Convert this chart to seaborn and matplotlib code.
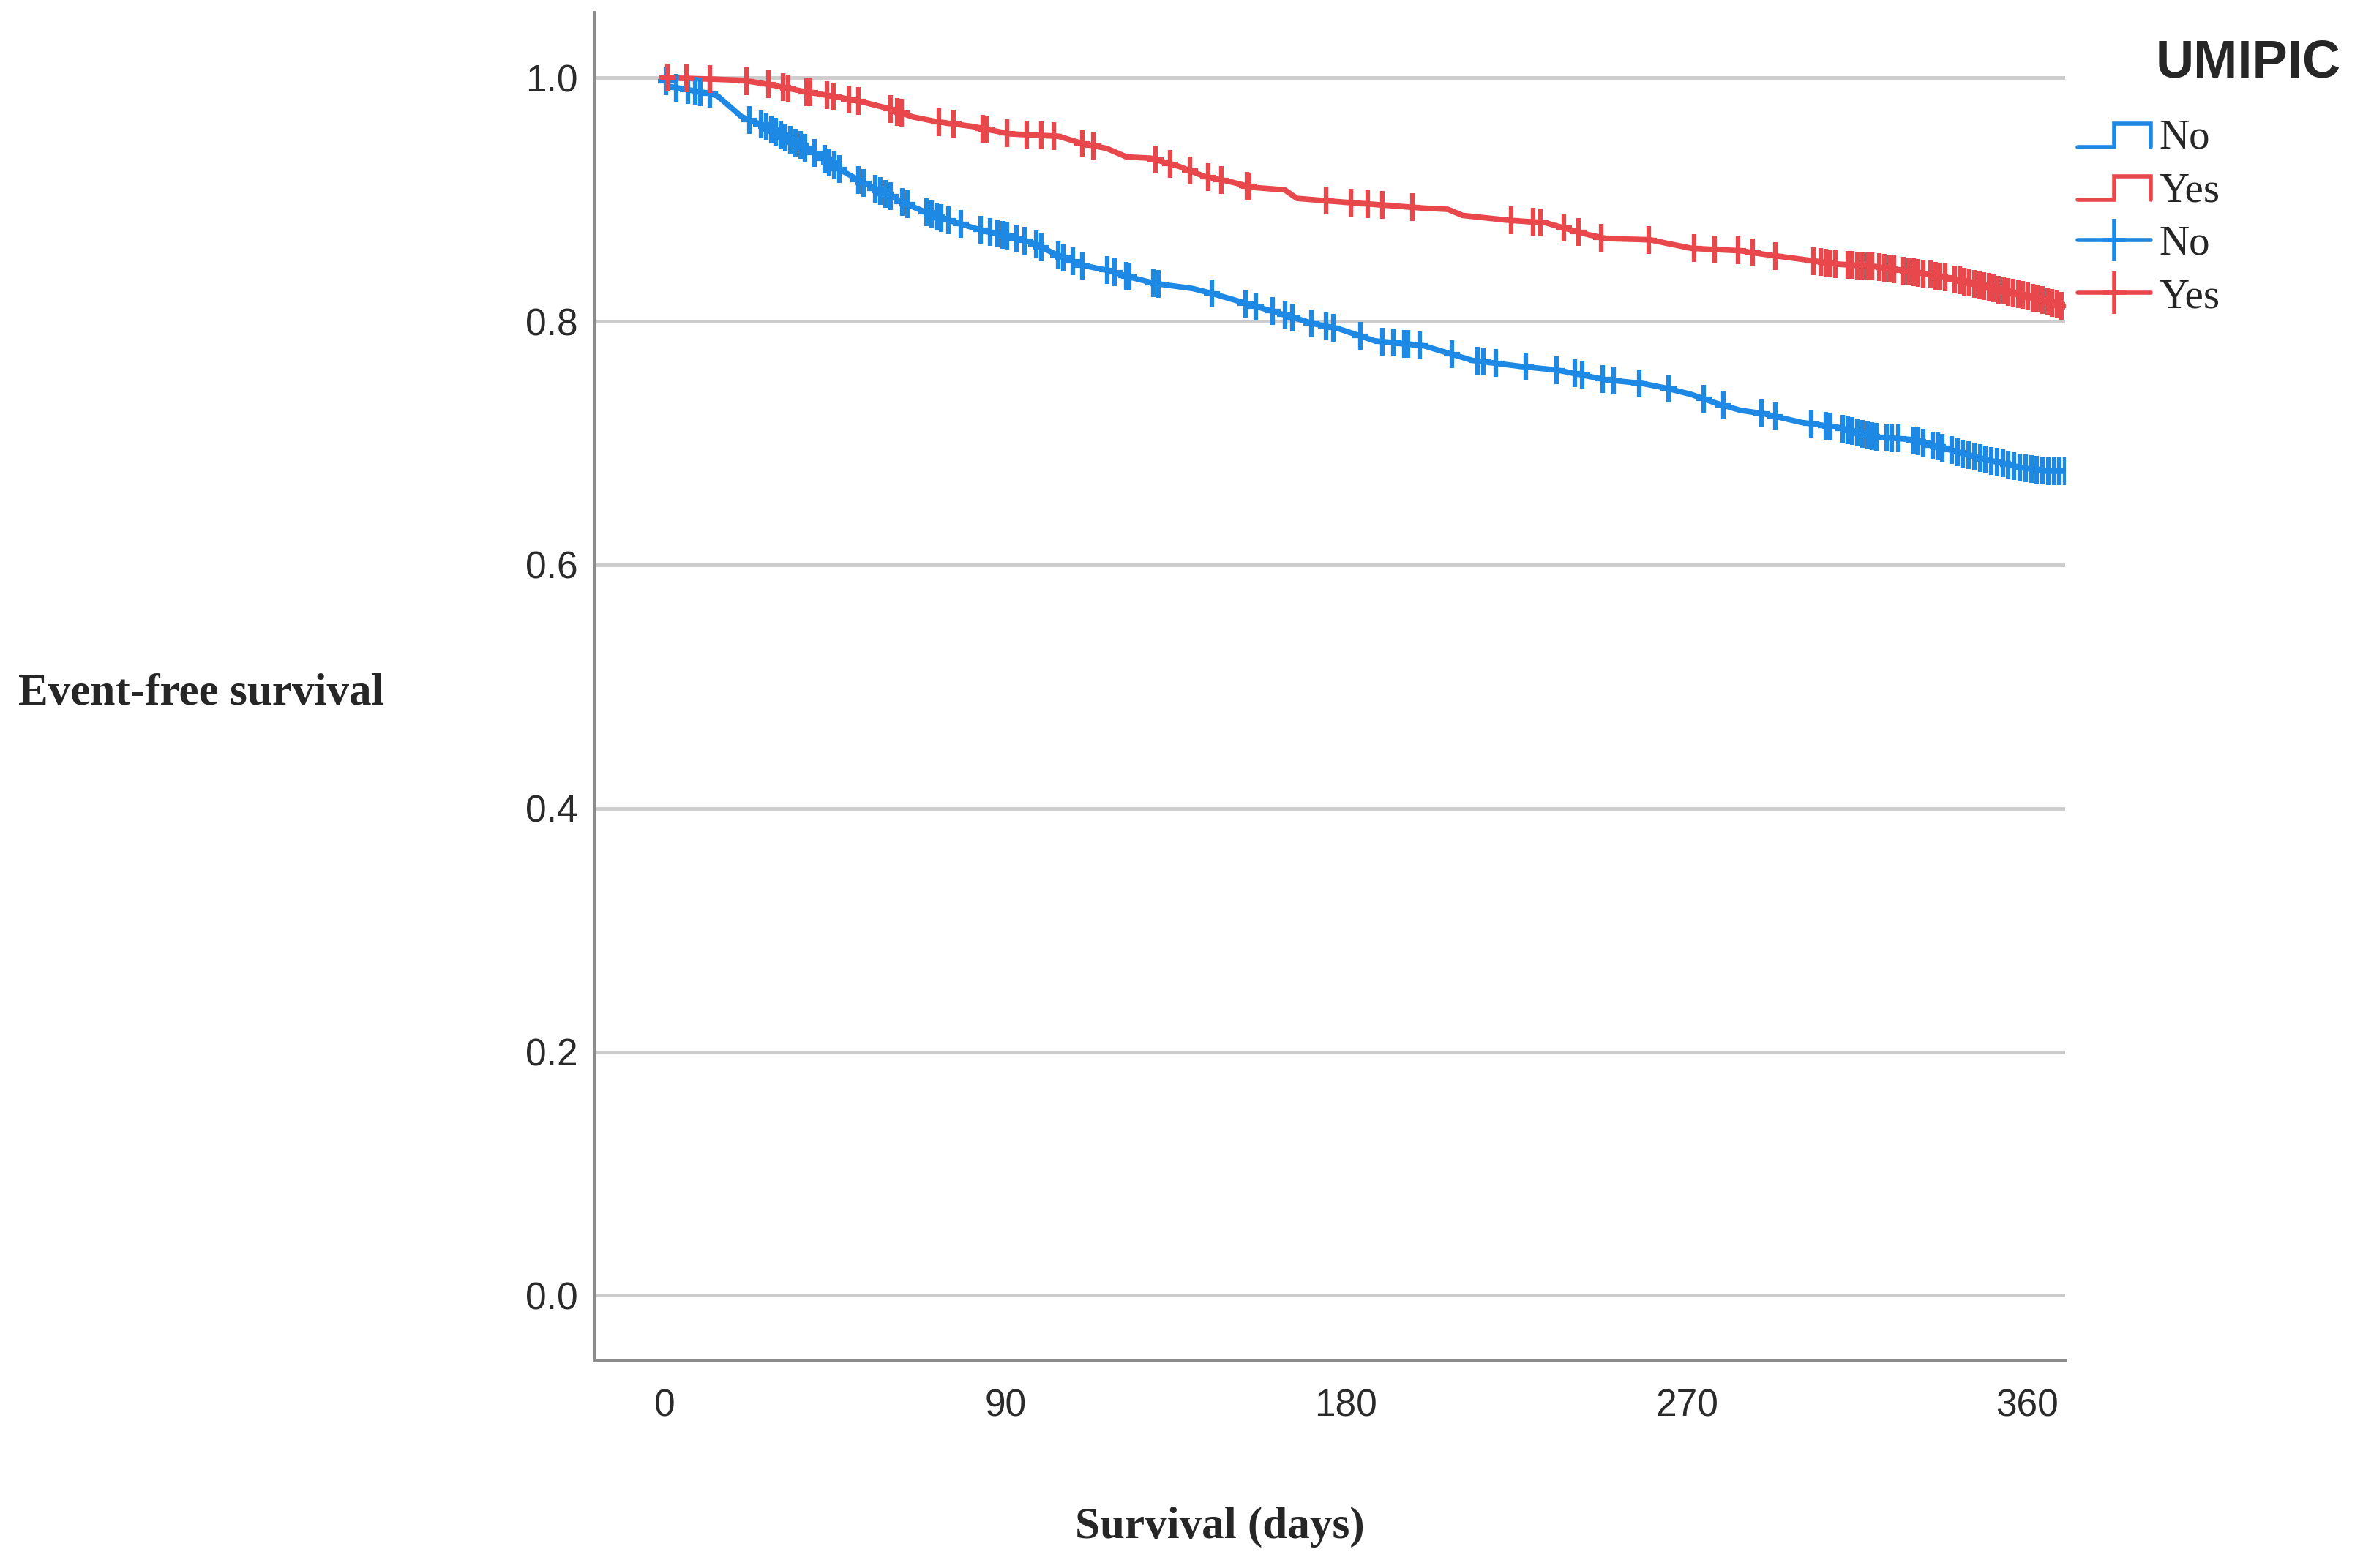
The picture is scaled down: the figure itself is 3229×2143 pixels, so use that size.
import numpy as np
import pandas as pd
import matplotlib
matplotlib.use("Agg")
import matplotlib.pyplot as plt
from matplotlib.lines import Line2D
from matplotlib.path import Path
from matplotlib.legend_handler import HandlerBase
import seaborn as sns

# Kaplan-Meier curves (days, event-free survival)
no_days = [0, 1, 12, 14, 20.3, 26.8, 31.9, 36.4, 42.9, 46.1, 51.2, 58.9, 64.1, 71.8, 78.2,
           84.6, 91.1, 97.5, 104, 110.4, 116.8, 123.3, 129.7, 139.4, 144.5, 152.2, 158.7,
           165.1, 171.5, 178, 187.6, 200.5, 206.9, 213.3, 226.2, 235.8, 242.3, 248.7, 258.3,
           264.8, 271.2, 277.6, 284.1, 290.6, 300.3, 309.9, 319.6, 329.2, 338.9, 348.5,
           358.2, 364.6, 370.4]
no_surv = [1.0, 0.993, 0.987, 0.985, 0.968, 0.960, 0.951, 0.944, 0.932, 0.925, 0.916, 0.904,
           0.896, 0.886, 0.880, 0.874, 0.870, 0.864, 0.854, 0.846, 0.842, 0.836, 0.831, 0.827,
           0.823, 0.816, 0.810, 0.804, 0.798, 0.794, 0.784, 0.780, 0.774, 0.768, 0.763, 0.760,
           0.756, 0.752, 0.749, 0.745, 0.740, 0.733, 0.727, 0.724, 0.717, 0.713, 0.705, 0.703,
           0.695, 0.687, 0.680, 0.677, 0.677]

yes_days = [0, 12, 20.3, 26.8, 36.4, 46.1, 52.5, 58.9, 65.4, 71.8, 81.5, 91.1, 104, 110.4,
            116.8, 122, 128.4, 136.1, 142.6, 149, 155.4, 163.8, 167, 174.8, 187.6, 200.5,
            206.9, 210.8, 223, 232.7, 237.2, 244.3, 248.8, 260.3, 264.9, 271.3, 284.2, 290.6,
            300.3, 309.9, 319.6, 329.2, 338.9, 348.5, 358.2, 364.6, 369.7]
yes_surv = [1.0, 0.999, 0.998, 0.995, 0.989, 0.984, 0.980, 0.975, 0.968, 0.964, 0.960, 0.954,
            0.952, 0.946, 0.942, 0.935, 0.934, 0.927, 0.919, 0.915, 0.910, 0.908, 0.901, 0.899,
            0.896, 0.893, 0.892, 0.887, 0.883, 0.881, 0.877, 0.871, 0.868, 0.867, 0.864, 0.860,
            0.858, 0.855, 0.851, 0.847, 0.845, 0.841, 0.836, 0.829, 0.822, 0.817, 0.812]

# censored observations (days)
no_censor = [0.4, 3.0, 6.2, 8.1, 9.4, 12, 22.3, 25.5, 26.8, 28.1, 29.3, 30.6, 31.9, 33.2, 34.5,
             35.8, 37.1, 39.6, 42.2, 43.5, 44.8, 46.1, 51.2, 52.5, 55.7, 57, 58.3, 59.6, 62.8,
             64.1, 69.2, 70.5, 71.8, 73.1, 75, 78.2, 83.4, 86, 87.9, 89.2, 90.5, 93, 95, 98.2,
             99.5, 104, 105.3, 107.9, 110.4, 116.8, 118.8, 122, 122.7, 129.1, 130.4, 144.5,
             153.5, 156.1, 160.6, 163.8, 165.8, 170.9, 174.7, 176.7, 183.8, 189.6, 192.5, 195.4,
             196.3, 199.5, 207.9, 214.7, 216.3, 219.5, 227.5, 235.6, 240.4, 242.3, 247.8, 250.7,
             257.4, 265.2, 274.5, 279.7, 289.7, 293.5, 302.9, 306.7, 308, 311.2, 312.5, 313.8,
             315.1, 316.4, 317.7, 319, 320.2, 322.8, 324.1, 326, 329.9, 331.2, 332.5, 335, 336.3,
             337.6, 340, 341.5, 343, 344.5, 346, 347.5, 349, 350.5, 352, 353.5, 355, 356.5, 358,
             359.5, 361, 362.5, 364, 365.5, 367, 368.5, 370]
yes_censor = [0.7, 5.8, 12, 21.6, 27.4, 31.3, 32.6, 37.4, 38.4, 42.9, 44.5, 48.7, 51.2, 59.6,
              61.5, 62.5, 72.4, 76.3, 84, 85, 90.5, 95.6, 99.5, 102.7, 110.4, 113.3, 129.7,
              133.6, 138.7, 143.6, 147.1, 153.8, 154.5, 174.7, 181.2, 185.7, 189.6, 197.6,
              223.7, 229.4, 231.4, 237.5, 241.4, 247.5, 260, 271.9, 277.4, 283.5, 287.4, 293.5,
              303.5, 305.4, 306.7, 308, 309.3, 312.5, 313.8, 315.1, 316.4, 317.7, 319, 320.9,
              322.2, 323.5, 324.7, 327.3, 328.6, 329.9, 331.2, 332.5, 334.4, 335.7, 337, 338.3,
              340.8, 342.1, 343.4, 344.7, 346, 347.3, 348.6, 349.8, 351.1, 352.4, 353.7, 355,
              356.3, 357.6, 358.8, 360.1, 361.4, 362.7, 364, 365.3, 366.6, 367.9, 369.1]

x_ticks = [0, 90, 180, 270, 360]
y_ticks = [0.0, 0.2, 0.4, 0.6, 0.8, 1.0]
colors = {"No": "#1E88E5", "Yes": "#E8474B"}

sns.set_style("white")
plt.rcParams["font.family"] = ["Liberation Sans", "DejaVu Sans"]

curves = pd.concat([
    pd.DataFrame({"day": no_days, "surv": no_surv, "UMIPIC": "No"}),
    pd.DataFrame({"day": yes_days, "surv": yes_surv, "UMIPIC": "Yes"}),
])

# tall "+" used for censor ticks
cross = Path([(-0.55, 0), (0.55, 0), (0, -1), (0, 1)],
             [Path.MOVETO, Path.LINETO, Path.MOVETO, Path.LINETO])

fig = plt.figure(figsize=(32.3, 21.43), dpi=100)
ax = fig.add_axes([0.2513, 0.1327, 0.6224, 0.8596])

sns.lineplot(data=curves, x="day", y="surv", hue="UMIPIC", palette=colors,
             estimator=None, sort=False, lw=5.5, legend=False, ax=ax)

for grp, days, src_d, src_s in (("No", no_censor, no_days, no_surv),
                                ("Yes", yes_censor, yes_days, yes_surv)):
    sns.lineplot(x=days, y=np.interp(days, src_d, src_s), color=colors[grp],
                 marker=cross, markersize=28, markeredgewidth=4.5,
                 markeredgecolor=colors[grp], markerfacecolor="none",
                 linestyle="none", estimator=None, sort=False, ax=ax)

ax.set_xlim(-18.7, 370)
ax.set_ylim(-0.053, 1.054)
ax.set_xticks(x_ticks)
ax.set_yticks(y_ticks)
ax.set_yticklabels([f"{v:.1f}" for v in y_ticks])
ax.yaxis.grid(True, color="#cccccc", lw=3.5)
ax.xaxis.grid(False)
ax.set_axisbelow(True)
for side in ("top", "right"):
    ax.spines[side].set_visible(False)
for side in ("left", "bottom"):
    ax.spines[side].set_color("#8c8c8c")
    ax.spines[side].set_linewidth(3.5)
ax.tick_params(axis="both", length=0, labelsize=37, labelcolor="#2a2a2a")
ax.tick_params(axis="x", pad=28)
ax.tick_params(axis="y", pad=16)

ax.set_ylabel("Event-free survival", rotation=0, fontsize=44, fontweight="bold",
              family="Liberation Serif", ha="left", va="center")
ax.yaxis.set_label_coords(-0.3914, 0.4944)
ax.set_xlabel("Survival (days)", fontsize=44, fontweight="bold",
              family="Liberation Serif", ha="center", va="center")
ax.xaxis.set_label_coords(0.4252, -0.124)


class StepHandler(HandlerBase):
    def create_artists(self, legend, orig_handle, xdescent, ydescent, width, height,
                       fontsize, trans):
        x0 = -xdescent
        x1 = x0 + width
        xm = x0 + width * 0.5
        lo = -ydescent + 0.05 * height
        hi = -ydescent + 0.85 * height
        ln = Line2D([x0, xm, xm, x1, x1], [lo, lo, hi, hi, lo],
                    color=orig_handle.get_color(), lw=orig_handle.get_linewidth(),
                    solid_joinstyle="miter")
        ln.set_transform(trans)
        return [ln]


step_no = Line2D([], [], color=colors["No"], lw=4)
step_yes = Line2D([], [], color=colors["Yes"], lw=4)
cens_no = Line2D([], [], color=colors["No"], lw=4, marker=cross, markersize=42,
                 markeredgewidth=4, markeredgecolor=colors["No"])
cens_yes = Line2D([], [], color=colors["Yes"], lw=4, marker=cross, markersize=42,
                  markeredgewidth=4, markeredgecolor=colors["Yes"])

fig.legend([step_no, step_yes, cens_no, cens_yes], ["No", "Yes", "No", "Yes"],
           handler_map={step_no: StepHandler(), step_yes: StepHandler()},
           loc="upper left", bbox_to_anchor=(0.8788, 0.924), bbox_transform=fig.transFigure,
           frameon=False, borderpad=0, borderaxespad=0, numpoints=1,
           handlelength=1.76, handletextpad=0.2, labelspacing=0.36,
           prop={"family": "Liberation Serif", "size": 41})
fig.text(0.912, 0.9596, "UMIPIC", fontsize=52, fontweight="bold", ha="left", va="center")

fig.savefig("out.png", dpi=100)
